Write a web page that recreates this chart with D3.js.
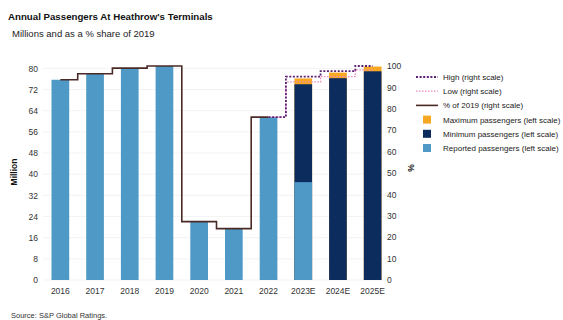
<!DOCTYPE html>
<html>
<head>
<meta charset="utf-8">
<script src="https://cdn.jsdelivr.net/npm/d3@7"></script>
<style>
  body { margin: 0; background: #fff; }
  text { font-family: "Liberation Sans", Arial, sans-serif; }
</style>
</head>
<body>
<svg id="chart" width="563" height="320"></svg>
<script>
// data
var years = ["2016", "2017", "2018", "2019", "2020", "2021", "2022", "2023E", "2024E", "2025E"];
var reported = [75.7, 78.0, 80.1, 80.9, 22.1, 19.4, 61.6, 37.0, null, null];
var minimum = [null, null, null, null, null, null, null, 74.0, 76.3, 78.9];
var maximum = [null, null, null, null, null, null, null, 76.2, 78.4, 80.7];
var pctYears = ["2016", "2017", "2018", "2019", "2020", "2021", "2022"];
var pctOf2019 = [93.6, 96.4, 99.0, 100, 27.3, 24.0, 76.1];
var fcYears = ["2022", "2023E", "2024E", "2025E"];
var high = [76.1, 95.0, 97.6, 100];
var low = [76.1, 92.6, 95.0, 98.2];
var leftTicks = [0, 8, 16, 24, 32, 40, 48, 56, 64, 72, 80];
var rightTicks = [0, 10, 20, 30, 40, 50, 60, 70, 80, 90, 100];

var colors = {reported: "#4e99c6", minimum: "#0c2c5e", maximum: "#f7a823",
              pct: "#4a2a26", high: "#5b1f74", low: "#e98ac0"};

var svg = d3.select("#chart");
var plotTop = 66, plotBottom = 280, plotLeft = 43, plotRight = 390;

var x = d3.scaleBand()
    .domain(years)
    .range([plotLeft, plotRight])
    .paddingInner(0.49)
    .paddingOuter(0.245);
var yL = d3.scaleLinear().domain([0, 80.9]).range([plotBottom, plotTop]);
var yR = d3.scaleLinear().domain([0, 100]).range([plotBottom, plotTop]);

// title
svg.append("text").attr("x", 8).attr("y", 20)
    .style("font-size", "9.7px").style("font-weight", "bold").attr("fill", "#111")
    .text("Annual Passengers At Heathrow's Terminals");
svg.append("text").attr("x", 12).attr("y", 37)
    .style("font-size", "9.5px").attr("fill", "#222")
    .text("Millions and as a % share of 2019");
svg.append("text").attr("x", 11).attr("y", 318)
    .style("font-size", "7.5px").attr("fill", "#333")
    .text("Source: S&P Global Ratings.");

// faint gridlines
svg.append("g").selectAll("line")
    .data(leftTicks)
    .enter().append("line")
    .attr("x1", plotLeft).attr("x2", plotRight)
    .attr("y1", function(d) { return yL(d); })
    .attr("y2", function(d) { return yL(d); })
    .attr("stroke", "#f3f3f3").attr("stroke-width", 1);

// axes
var axL = svg.append("g")
    .attr("transform", "translate(" + plotLeft + ",0)")
    .call(d3.axisLeft(yL).tickValues(leftTicks).tickSize(0).tickPadding(5));
var axR = svg.append("g")
    .attr("transform", "translate(" + (plotRight - 3) + ",0)")
    .call(d3.axisRight(yR).tickValues(rightTicks).tickSize(0).tickPadding(0));
var axX = svg.append("g")
    .attr("transform", "translate(0," + plotBottom + ")")
    .call(d3.axisBottom(x).tickSize(0).tickPadding(8));
[axL, axR, axX].forEach(function(a) {
    a.select(".domain").remove();
    a.selectAll("text").style("font-size", "8.5px").attr("fill", "#333")
        .style("font-family", "'Liberation Sans', Arial, sans-serif");
});

svg.append("text")
    .attr("transform", "translate(17,172) rotate(-90)")
    .attr("text-anchor", "middle")
    .style("font-size", "8.5px").style("font-weight", "bold").attr("fill", "#111")
    .text("Million");
svg.append("text")
    .attr("transform", "translate(408,168) rotate(90)")
    .attr("text-anchor", "middle")
    .style("font-size", "8.5px").style("font-weight", "bold").attr("fill", "#111")
    .text("%");

// bars: maximum behind, then minimum, then reported
var bars = svg.append("g");
function drawBars(vals, color) {
    bars.append("g").selectAll("rect")
        .data(years.map(function(y, i) { return {year: y, v: vals[i]}; })
            .filter(function(d) { return d.v != null; }))
        .enter().append("rect")
        .attr("x", function(d) { return x(d.year); })
        .attr("width", x.bandwidth())
        .attr("y", function(d) { return yL(d.v); })
        .attr("height", function(d) { return plotBottom - yL(d.v); })
        .attr("fill", color);
}
drawBars(maximum, colors.maximum);
drawBars(minimum, colors.minimum);
drawBars(reported, colors.reported);

// step lines on the right scale
function cx(y) { return x(y) + x.bandwidth() / 2; }
var step = d3.line().curve(d3.curveStep)
    .x(function(d) { return cx(d[0]); })
    .y(function(d) { return yR(d[1]); });

svg.append("path")
    .datum(pctYears.map(function(y, i) { return [y, pctOf2019[i]]; }))
    .attr("d", step).attr("fill", "none")
    .attr("stroke", colors.pct).attr("stroke-width", 1.6);
svg.append("path")
    .datum(fcYears.map(function(y, i) { return [y, low[i]]; }))
    .attr("d", step).attr("fill", "none")
    .attr("stroke", colors.low).attr("stroke-width", 1.3).attr("stroke-dasharray", "1.5,1.5");
svg.append("path")
    .datum(fcYears.map(function(y, i) { return [y, high[i]]; }))
    .attr("d", step).attr("fill", "none")
    .attr("stroke", colors.high).attr("stroke-width", 1.8).attr("stroke-dasharray", "2,1.6");

// legend
var legend = [
    {label: "High (right scale)", type: "dash", color: colors.high, w: 1.8, dash: "2,1.6"},
    {label: "Low (right scale)", type: "dash", color: colors.low, w: 1.3, dash: "1.5,1.5"},
    {label: "% of 2019 (right scale)", type: "line", color: colors.pct, w: 1.6},
    {label: "Maximum passengers (left scale)", type: "box", color: colors.maximum},
    {label: "Minimum passengers (left scale)", type: "box", color: colors.minimum},
    {label: "Reported passengers (left scale)", type: "box", color: colors.reported}
];
var lg = svg.append("g").selectAll("g")
    .data(legend).enter().append("g")
    .attr("transform", function(d, i) { return "translate(416," + (77 + i * 14.2) + ")"; });
lg.filter(function(d) { return d.type != "box"; }).append("line")
    .attr("x1", 0).attr("x2", 22).attr("y1", 0).attr("y2", 0)
    .attr("stroke", function(d) { return d.color; })
    .attr("stroke-width", function(d) { return d.w; })
    .attr("stroke-dasharray", function(d) { return d.dash || null; });
lg.filter(function(d) { return d.type == "box"; }).append("rect")
    .attr("x", 7).attr("y", -4).attr("width", 8).attr("height", 8)
    .attr("fill", function(d) { return d.color; });
lg.append("text")
    .attr("x", 27).attr("y", 3)
    .style("font-size", "8px").attr("fill", "#222")
    .text(function(d) { return d.label; });
</script>
</body>
</html>
